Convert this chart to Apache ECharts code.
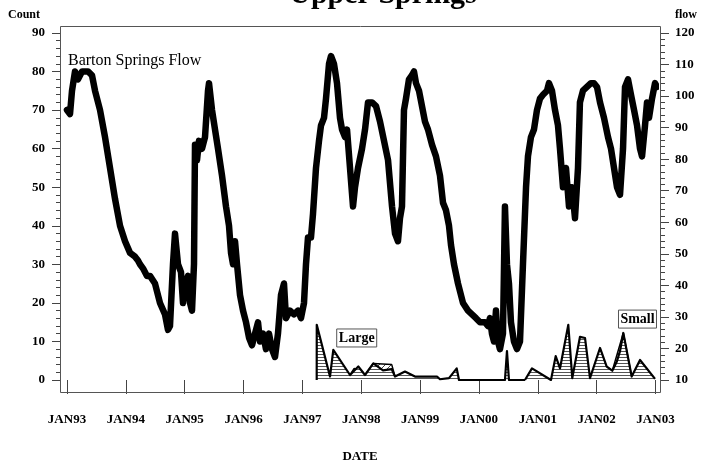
<!DOCTYPE html>
<html>
<head>
<meta charset="utf-8">
<script src="https://cdn.jsdelivr.net/npm/echarts@6/dist/echarts.min.js"></script>
<style>html,body{margin:0;padding:0;background:#fff}#c{width:701px;height:466px}</style>
</head>
<body>
<div id="c"></div>
<script>
// ---- data (decimal years) ----
const flowDates = [1993.000,1993.051,1993.085,1993.136,1993.187,1993.255,1993.306,1993.357,1993.425,1993.476,1993.561,1993.646,1993.731,1993.816,1993.901,1993.986,1994.071,1994.156,1994.206,1994.240,1994.291,1994.359,1994.410,1994.495,1994.580,1994.665,1994.716,1994.750,1994.801,1994.835,1994.886,1994.937,1994.971,1995.005,1995.056,1995.090,1995.124,1995.158,1995.175,1995.209,1995.243,1995.294,1995.345,1995.396,1995.413,1995.464,1995.515,1995.566,1995.634,1995.702,1995.753,1995.787,1995.821,1995.855,1995.889,1995.940,1995.991,1996.042,1996.093,1996.144,1996.195,1996.246,1996.280,1996.331,1996.381,1996.432,1996.483,1996.534,1996.585,1996.636,1996.687,1996.721,1996.789,1996.857,1996.925,1996.976,1997.027,1997.061,1997.095,1997.146,1997.180,1997.231,1997.282,1997.316,1997.367,1997.401,1997.452,1997.486,1997.537,1997.588,1997.639,1997.673,1997.724,1997.758,1997.809,1997.860,1997.894,1997.945,1998.013,1998.064,1998.115,1998.183,1998.251,1998.319,1998.387,1998.455,1998.523,1998.574,1998.624,1998.658,1998.692,1998.726,1998.760,1998.811,1998.862,1998.896,1998.930,1998.981,1999.032,1999.083,1999.134,1999.202,1999.270,1999.338,1999.389,1999.440,1999.491,1999.525,1999.576,1999.644,1999.729,1999.814,1999.882,1999.950,2000.018,2000.102,2000.153,2000.187,2000.221,2000.255,2000.289,2000.323,2000.357,2000.408,2000.442,2000.476,2000.510,2000.544,2000.595,2000.646,2000.697,2000.748,2000.800,2000.833,2000.884,2000.935,2000.986,2001.037,2001.088,2001.156,2001.190,2001.241,2001.292,2001.343,2001.377,2001.428,2001.479,2001.530,2001.581,2001.632,2001.683,2001.716,2001.767,2001.835,2001.903,2001.955,2002.006,2002.057,2002.125,2002.193,2002.244,2002.295,2002.346,2002.397,2002.448,2002.482,2002.533,2002.584,2002.635,2002.686,2002.737,2002.771,2002.822,2002.856,2002.890,2002.941,2002.992,2003.025];
const flowValues = [95.6,94.3,101.7,107.8,105.3,107.8,107.8,107.8,106.6,101.7,95.6,87.0,77.2,67.4,58.9,54.0,50.3,49.1,47.9,46.7,45.4,43.0,43.0,40.6,34.4,30.8,25.9,27.1,46.7,56.4,46.7,44.2,34.4,39.3,43.0,34.4,32.0,46.7,84.6,79.7,85.8,83.3,87.0,101.7,104.1,95.6,89.4,83.3,74.8,65.0,58.9,50.3,46.7,54.0,46.7,36.9,32.0,28.3,23.4,21.0,24.7,28.3,22.2,24.7,19.8,24.7,19.8,17.3,24.7,36.9,40.6,29.6,32.0,30.8,32.0,29.6,34.4,46.7,55.2,55.2,62.6,77.2,85.8,90.7,93.1,99.2,110.2,112.7,110.2,104.1,93.1,89.4,87.0,89.4,77.2,65.0,71.1,77.2,83.3,89.4,98.0,98.0,96.8,91.9,85.8,79.7,65.0,56.4,54.0,61.3,65.0,95.6,99.2,105.3,106.6,107.8,104.1,101.7,96.8,91.9,89.4,84.6,80.9,74.8,66.2,63.8,58.9,52.8,46.7,40.6,34.4,32.0,30.8,29.6,28.3,28.3,27.1,29.6,24.7,22.2,32.0,22.2,19.8,24.7,65.0,46.7,40.6,28.3,22.2,19.8,22.2,46.7,71.1,80.9,87.0,89.4,95.6,99.2,100.4,101.7,104.1,101.7,95.6,90.7,83.3,71.1,77.2,65.0,71.1,61.3,77.2,98.0,101.7,102.9,104.1,104.1,102.9,98.0,93.1,87.0,83.3,77.2,71.1,68.7,83.3,102.9,105.3,100.4,95.6,90.7,83.3,80.9,90.7,98.0,93.1,99.2,104.1,102.9];

const largeDates  = [1997.243,1997.244,1997.469,1997.525,1997.809,1997.950,1998.064,1998.205,1998.370,1998.518,1998.574,1998.743,1998.913,1999.287,1999.338,1999.491,1999.622,1999.661,2000.442,2000.476,2000.510,2000.782];
const largeCounts = [0,14.3,0.9,7.8,1.3,3.5,1.3,4.3,2.5,2.8,0.9,2.2,0.9,0.9,0.2,0.5,3.0,0,0,7.5,0,0];
const largeUpperDates  = [1997.809,1997.880,1998.000,1998.064,1998.205,1998.518,1998.574];
const largeUpperCounts = [1.3,3.0,2.4,1.3,4.3,4.0,0.9];

const smallDates  = [2000.782,2000.901,2001.224,2001.304,2001.377,2001.518,2001.586,2001.717,2001.802,2001.887,2002.057,2002.171,2002.266,2002.341,2002.397,2002.453,2002.595,2002.737,2002.992];
const smallCounts = [0,3.0,0,6.2,3.0,14.3,0.5,11.2,10.9,0.5,8.3,3.5,2.4,4.7,7.5,12.2,0.9,5.2,0.3];
const smallUpperDates  = [2002.171,2002.266,2002.453,2002.595];
const smallUpperCounts = [3.5,2.4,12.2,0.9];

const countTicks = [0,10,20,30,40,50,60,70,80,90];
const flowTicks = [10,20,30,40,50,60,70,80,90,100,110,120];
const yearTicks = [1993,1994,1995,1996,1997,1998,1999,2000,2001,2002,2003];

// ---- helpers ----
const zip = (a, b) => a.map((v, i) => [v, b[i]]);
function hatch(diag) {
  const c = document.createElement('canvas');
  if (diag) {
    c.width = 6; c.height = 6;
    const g = c.getContext('2d');
    g.strokeStyle = '#444'; g.lineWidth = 1;
    g.beginPath(); g.moveTo(-1, 7); g.lineTo(7, -1); g.stroke();
  } else {
    c.width = 6; c.height = 3;
    const g = c.getContext('2d');
    g.fillStyle = '#fff'; g.fillRect(0, 0, 6, 3);
    g.fillStyle = '#555'; g.fillRect(0, 0, 6, 1);
  }
  return c;
}
const FONT = '"Liberation Serif", "DejaVu Serif", serif';
const axisLbl = { fontFamily: FONT, fontWeight: 'bold', fontSize: 13, color: '#000' };
const tickStyle = { color: '#444', width: 1 };

const chart = echarts.init(document.getElementById('c'), null, { renderer: 'canvas' });
const option = {
  animation: false,
  backgroundColor: '#fff',
  grid: { left: 67, right: 45.5, top: 33, bottom: 86, containLabel: false },
  xAxis: {
    type: 'value', min: yearTicks[0], max: yearTicks[yearTicks.length - 1], interval: 1,
    offset: 13,
    axisLine: { show: false },
    axisTick: { show: true, length: 14, lineStyle: tickStyle },
    axisLabel: Object.assign({ margin: 20, formatter: v => 'JAN' + String(Math.round(v)).slice(2) }, axisLbl),
    splitLine: { show: false }
  },
  yAxis: [
    {
      type: 'value', min: countTicks[0], max: countTicks[countTicks.length - 1], interval: 10,
      position: 'left', offset: 7,
      axisLine: { show: false },
      axisTick: { show: true, length: 8, lineStyle: tickStyle },
      minorTick: { show: true, splitNumber: 5, length: 4, lineStyle: tickStyle },
      axisLabel: Object.assign({ margin: 15 }, axisLbl),
      splitLine: { show: false }
    },
    {
      type: 'value', min: flowTicks[0], max: flowTicks[flowTicks.length - 1], interval: 10,
      position: 'right', offset: 5.5,
      axisLine: { show: false },
      axisTick: { show: true, length: 8, lineStyle: tickStyle },
      minorTick: { show: true, splitNumber: 5, length: 4, lineStyle: tickStyle },
      axisLabel: Object.assign({ margin: 14 }, axisLbl),
      splitLine: { show: false }
    }
  ],
  series: [
    {
      name: 'Large upper', type: 'line', yAxisIndex: 0, data: zip(largeUpperDates, largeUpperCounts),
      showSymbol: false, z: 2, lineStyle: { color: '#000', width: 1.5 },
      areaStyle: { color: { image: hatch(true), repeat: 'repeat' }, opacity: 1, origin: 'start' }
    },
    {
      name: 'Small upper', type: 'line', yAxisIndex: 0, data: zip(smallUpperDates, smallUpperCounts),
      showSymbol: false, z: 2, lineStyle: { color: '#000', width: 1.5 },
      areaStyle: { color: { image: hatch(true), repeat: 'repeat' }, opacity: 1, origin: 'start' }
    },
    {
      name: 'Large', type: 'line', yAxisIndex: 0, data: zip(largeDates, largeCounts),
      showSymbol: false, z: 3, lineStyle: { color: '#000', width: 2.2, join: 'round' },
      areaStyle: { color: { image: hatch(false), repeat: 'repeat' }, opacity: 1, origin: 'start' }
    },
    {
      name: 'Small', type: 'line', yAxisIndex: 0, data: zip(smallDates, smallCounts),
      showSymbol: false, z: 3, lineStyle: { color: '#000', width: 2.2, join: 'round' },
      areaStyle: { color: { image: hatch(false), repeat: 'repeat' }, opacity: 1, origin: 'start' }
    },
    {
      name: 'Barton Springs Flow', type: 'line', yAxisIndex: 1, data: zip(flowDates, flowValues),
      showSymbol: false, z: 5, clip: false,
      lineStyle: { color: '#000', width: 6.5, join: 'round', cap: 'round' }
    }
  ]
};
chart.setOption(option);

// annotations placed through the chart's own scales
const pLarge = chart.convertToPixel({ xAxisIndex: 0, yAxisIndex: 0 }, [1997.923, 10.9]);
const pSmall = chart.convertToPixel({ xAxisIndex: 0, yAxisIndex: 0 }, [2002.694, 15.8]);
function boxLabel(txt, p, w) {
  return {
    type: 'group', x: p[0] - w / 2, y: p[1] - 9, z: 10,
    children: [
      { type: 'rect', shape: { x: 0, y: 0, width: w, height: 18 }, style: { fill: '#fff', stroke: '#555', lineWidth: 1 } },
      { type: 'text', x: w / 2, y: 9, style: { text: txt, fontFamily: FONT, fontWeight: 'bold', fontSize: 14, fill: '#000', align: 'center', verticalAlign: 'middle' } }
    ]
  };
}
chart.setOption({
  graphic: [
    { type: 'rect', z: 1, silent: true, shape: { x: 60.5, y: 26.5, width: 600, height: 366 }, style: { fill: 'none', stroke: '#555', lineWidth: 1 } },
    { type: 'text', x: 383, y: 10, style: { text: 'Upper Springs', fontFamily: FONT, fontWeight: 'bold', fontSize: 30, fill: '#000', align: 'center', verticalAlign: 'bottom' } },
    { type: 'text', x: 8, y: 15, style: { text: 'Count', fontFamily: FONT, fontWeight: 'bold', fontSize: 12, fill: '#000', align: 'left', verticalAlign: 'middle' } },
    { type: 'text', x: 697, y: 15, style: { text: 'flow', fontFamily: FONT, fontWeight: 'bold', fontSize: 12, fill: '#000', align: 'right', verticalAlign: 'middle' } },
    { type: 'text', x: 360, y: 457, style: { text: 'DATE', fontFamily: FONT, fontWeight: 'bold', fontSize: 13, fill: '#000', align: 'center', verticalAlign: 'middle' } },
    { type: 'text', x: 68, y: 61, z: 10, style: { text: 'Barton Springs Flow', fontFamily: FONT, fontSize: 16, fill: '#000', align: 'left', verticalAlign: 'middle' } },
    boxLabel('Large', pLarge, 40),
    boxLabel('Small', pSmall, 38)
  ]
});
</script>
</body>
</html>
